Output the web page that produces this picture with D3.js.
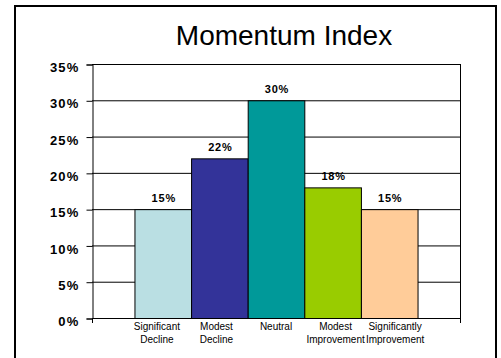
<!DOCTYPE html>
<html>
<head>
<meta charset="utf-8">
<script src="https://cdn.jsdelivr.net/npm/d3@7/dist/d3.min.js"></script>
<style>
  html, body { margin: 0; padding: 0; background: #fff; }
  svg { display: block; }
  text { font-family: Arial, "Liberation Sans", sans-serif; fill: #000; }
</style>
</head>
<body>
<script>
// Momentum Index survey results
const categories = [
  ["Significant", "Decline"],
  ["Modest", "Decline"],
  ["Neutral"],
  ["Modest", "Improvement"],
  ["Significantly", "Improvement"]
];
const values = [15, 22, 30, 18, 15];
const barColors = ["#BADFE3", "#333399", "#009999", "#99CC00", "#FFCC99"];
const yTicks = [0, 5, 10, 15, 20, 25, 30, 35];
const title = "Momentum Index";

const W = 501, H = 358;
const plot = { left: 92, right: 460, top: 64, bottom: 318 };

const svg = d3.select("body").append("svg")
  .attr("width", W).attr("height", H);

// outer frame (runs past the bottom edge)
svg.append("rect")
  .attr("x", 15).attr("y", 6)
  .attr("width", 481).attr("height", 360)
  .attr("fill", "#fff")
  .attr("stroke", "#000").attr("stroke-width", 2);

const keys = categories.map((c, i) => i);
const x = d3.scaleBand()
  .domain(keys)
  .range([plot.left, plot.right])
  .paddingInner(0)
  .paddingOuter(0.75);

// category labels are spread a little wider than the bars so they don't collide
const xLabel = d3.scaleBand()
  .domain(keys)
  .range([plot.left, plot.right])
  .paddingInner(0)
  .paddingOuter(0.59);

const y = d3.scaleLinear()
  .domain([0, 35])
  .range([plot.bottom, plot.top]);

// horizontal gridlines
svg.append("g")
  .selectAll("line")
  .data(yTicks)
  .join("line")
  .attr("x1", plot.left).attr("x2", plot.right)
  .attr("y1", d => y(d) + 0.5).attr("y2", d => y(d) + 0.5)
  .attr("stroke", "#000").attr("stroke-width", 1);

// plot area right border
svg.append("line")
  .attr("x1", plot.right + 0.5).attr("x2", plot.right + 0.5)
  .attr("y1", plot.top).attr("y2", plot.bottom + 5)
  .attr("stroke", "#000");

// bars
svg.append("g")
  .selectAll("rect")
  .data(values)
  .join("rect")
  .attr("x", (d, i) => x(i) + 0.5)
  .attr("y", d => y(d) + 0.5)
  .attr("width", x.bandwidth())
  .attr("height", d => y(0) - y(d))
  .attr("fill", (d, i) => barColors[i])
  .attr("stroke", "#000").attr("stroke-width", 1);

// y axis
const yAxis = d3.axisLeft(y)
  .tickValues(yTicks)
  .tickSize(6)
  .tickFormat(d => d + "%");
const gy = svg.append("g")
  .attr("transform", `translate(${plot.left + 0.5},0.5)`)
  .call(yAxis);
gy.select(".domain").attr("stroke", "#000");
gy.selectAll(".tick line").attr("stroke", "#000");
gy.selectAll(".tick text")
  .attr("x", -13)
  .attr("dy", "0.55em")
  .style("font-size", "13px")
  .style("font-weight", "bold")
  .style("letter-spacing", "1.2px")
  .style("fill", "#000");

// x axis baseline with end ticks
const gx = svg.append("g");
gx.append("line")
  .attr("x1", plot.left).attr("x2", plot.right + 1)
  .attr("y1", y(0) + 0.5).attr("y2", y(0) + 0.5)
  .attr("stroke", "#000");
gx.selectAll("line.end")
  .data(x.range())
  .join("line")
  .attr("class", "end")
  .attr("x1", d => d + 0.5).attr("x2", d => d + 0.5)
  .attr("y1", y(0)).attr("y2", y(0) + 5)
  .attr("stroke", "#000");

// category labels
const labels = svg.append("g")
  .selectAll("text")
  .data(categories)
  .join("text")
  .attr("text-anchor", "middle")
  .attr("transform", (d, i) => `translate(${xLabel(i) + xLabel.bandwidth() / 2},${y(0) + 12})`)
  .style("font-size", "10px");
labels.selectAll("tspan")
  .data(d => d)
  .join("tspan")
  .attr("x", 0)
  .attr("dy", (d, j) => j === 0 ? 0 : 13)
  .text(d => d);

// value labels
svg.append("g")
  .selectAll("text")
  .data(values)
  .join("text")
  .attr("text-anchor", "middle")
  .attr("x", (d, i) => x(i) + x.bandwidth() / 2 + 1)
  .attr("y", d => y(d) - 7)
  .style("font-size", "11px")
  .style("font-weight", "bold")
  .style("letter-spacing", "0.8px")
  .text(d => d + "%");

// title
svg.append("text")
  .attr("x", 284).attr("y", 45)
  .attr("text-anchor", "middle")
  .style("font-size", "28px")
  .text(title);
</script>
</body>
</html>
